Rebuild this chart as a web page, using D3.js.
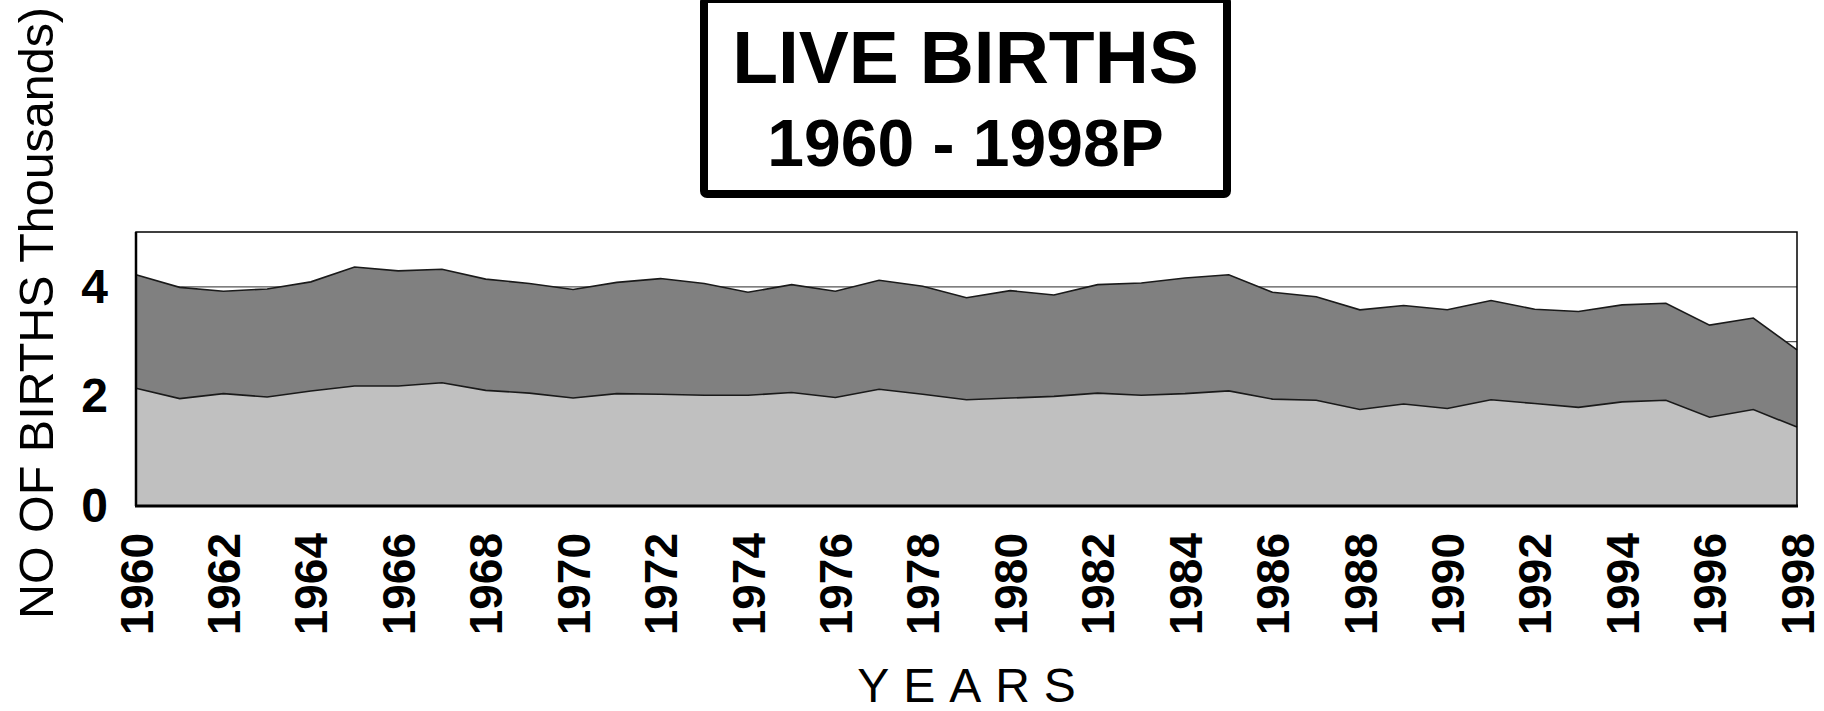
<!doctype html>
<html>
  <head>
    <script src="https://cdn.jsdelivr.net/npm/d3@7"></script>
    <style>
      body { margin: 0; background: #fff; }
      svg text { font-family: "Liberation Sans", Arial, sans-serif; fill: #000; }
    </style>
  </head>
  <body>
    <script>
      // data (thousands of births)
      var years = d3.range(1960, 1999);
      var lowerBirths = [2.15, 1.96, 2.05, 1.99, 2.10, 2.19, 2.19, 2.25, 2.11, 2.06,
                         1.97, 2.05, 2.04, 2.02, 2.02, 2.07, 1.98, 2.13, 2.04, 1.94,
                         1.97, 2.00, 2.06, 2.02, 2.05, 2.10, 1.95, 1.93, 1.76, 1.86,
                         1.78, 1.94, 1.87, 1.80, 1.90, 1.93, 1.62, 1.76, 1.44];
      var upperBirths = [2.07, 2.03, 1.87, 1.97, 1.99, 2.17, 2.10, 2.07, 2.03, 2.00,
                         1.98, 2.03, 2.11, 2.04, 1.88, 1.97, 1.94, 1.99, 1.97, 1.86,
                         1.96, 1.85, 1.98, 2.05, 2.11, 2.12, 1.95, 1.89, 1.82, 1.80,
                         1.80, 1.81, 1.72, 1.75, 1.77, 1.77, 1.68, 1.67, 1.41];
      var yTickValues = [0, 2, 4];
      var gridValues = [1, 2, 3, 4];
      var xTickValues = d3.range(1960, 1999, 2);

      var w_svg = 1824;
      var h_svg = 711;
      var plotLeft = 136, plotRight = 1797, plotTop = 232, plotBottom = 506;

      var svg = d3.select("body")
                  .append("svg")
                  .attr("width", w_svg)
                  .attr("height", h_svg);

      var x = d3.scaleLinear().domain([1960, 1998]).range([plotLeft, plotRight]);
      var y = d3.scaleLinear().domain([0, 5]).range([plotBottom, plotTop]);

      // stack the two series
      var rows = years.map(function(yr, i) {
        return { year: yr, lower: lowerBirths[i], upper: upperBirths[i] };
      });
      var stacked = d3.stack().keys(["lower", "upper"])(rows);
      var fills = { lower: "#c0c0c0", upper: "#808080" };

      // gridlines
      svg.selectAll("line.grid")
         .data(gridValues)
         .enter()
         .append("line")
         .attr("class", "grid")
         .attr("x1", plotLeft)
         .attr("x2", plotRight)
         .attr("y1", function(d) { return y(d); })
         .attr("y2", function(d) { return y(d); })
         .attr("stroke", "#555")
         .attr("stroke-width", 1.3);

      var area = d3.area()
                   .x(function(d) { return x(d.data.year); })
                   .y0(function(d) { return y(d[0]); })
                   .y1(function(d) { return y(d[1]); });
      var topLine = d3.line()
                      .x(function(d) { return x(d.data.year); })
                      .y(function(d) { return y(d[1]); });

      svg.selectAll("path.area")
         .data(stacked)
         .enter()
         .append("path")
         .attr("class", "area")
         .attr("d", area)
         .attr("fill", function(d) { return fills[d.key]; });

      svg.selectAll("path.edge")
         .data(stacked)
         .enter()
         .append("path")
         .attr("class", "edge")
         .attr("d", topLine)
         .attr("fill", "none")
         .attr("stroke", "#1a1a1a")
         .attr("stroke-width", 1.6);

      // plot frame
      svg.append("rect")
         .attr("x", plotLeft).attr("y", plotTop)
         .attr("width", plotRight - plotLeft).attr("height", plotBottom - plotTop)
         .attr("fill", "none")
         .attr("stroke", "#000")
         .attr("stroke-width", 1.5);
      svg.append("line")
         .attr("x1", plotLeft).attr("x2", plotLeft)
         .attr("y1", plotTop).attr("y2", plotBottom)
         .attr("stroke", "#000").attr("stroke-width", 2.5);
      svg.append("line")
         .attr("x1", plotLeft - 1).attr("x2", plotRight + 1)
         .attr("y1", plotBottom).attr("y2", plotBottom)
         .attr("stroke", "#000").attr("stroke-width", 3);

      // y axis labels
      var yAxis = svg.append("g")
                     .attr("transform", "translate(" + plotLeft + ",0)")
                     .call(d3.axisLeft(y).tickValues(yTickValues).tickSize(0).tickPadding(28)
                             .tickFormat(d3.format("d")));
      yAxis.select(".domain").remove();
      yAxis.selectAll("text")
           .style("font-size", "48px")
           .style("font-weight", "bold")
           .style("font-family", "'Liberation Sans', Arial, sans-serif");

      // x axis labels, rotated
      var xAxis = svg.append("g")
                     .attr("transform", "translate(0," + plotBottom + ")")
                     .call(d3.axisBottom(x).tickValues(xTickValues).tickSize(0).tickFormat(d3.format("d")));
      xAxis.select(".domain").remove();
      xAxis.selectAll("text")
           .attr("transform", "rotate(-90)")
           .attr("text-anchor", "end")
           .attr("x", -27)
           .attr("y", 0)
           .attr("dy", "0.35em")
           .style("font-size", "46px")
           .style("font-weight", "bold")
           .style("font-family", "'Liberation Sans', Arial, sans-serif");

      // axis titles
      svg.append("text")
         .attr("transform", "translate(53,313) rotate(-90)")
         .attr("text-anchor", "middle")
         .attr("textLength", 612)
         .attr("lengthAdjust", "spacingAndGlyphs")
         .style("font-size", "48px")
         .text("NO OF BIRTHS Thousands)");

      var yearsSpacing = 14;
      svg.append("text")
         .attr("x", (plotLeft + plotRight) / 2 + yearsSpacing / 2)
         .attr("y", 702)
         .attr("text-anchor", "middle")
         .style("font-size", "48px")
         .style("letter-spacing", yearsSpacing + "px")
         .text("YEARS");

      // title box
      var cx = 965.5;
      svg.append("rect")
         .attr("x", 704).attr("y", -1)
         .attr("width", 523).attr("height", 195)
         .attr("rx", 3)
         .attr("fill", "#fff")
         .attr("stroke", "#000")
         .attr("stroke-width", 8);
      svg.append("text")
         .attr("x", cx).attr("y", 83)
         .attr("text-anchor", "middle")
         .style("font-size", "75px")
         .style("font-weight", "bold")
         .text("LIVE BIRTHS");
      svg.append("text")
         .attr("x", cx).attr("y", 166)
         .attr("text-anchor", "middle")
         .style("font-size", "66px")
         .style("font-weight", "bold")
         .text("1960 - 1998P");
    </script>
  </body>
</html>
